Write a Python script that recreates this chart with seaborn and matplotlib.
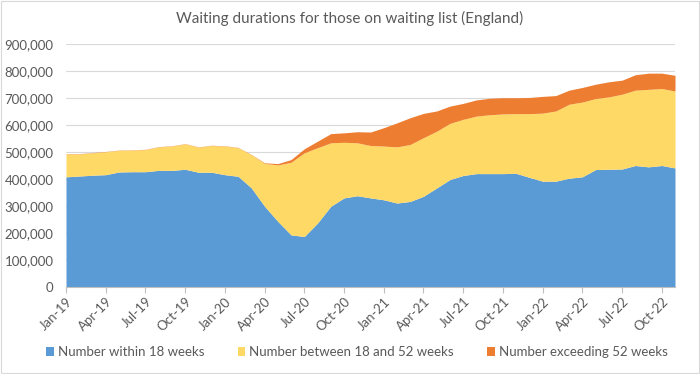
import matplotlib
matplotlib.use("Agg")
import matplotlib.pyplot as plt
import numpy as np
import seaborn as sns
from matplotlib.patches import Rectangle
from matplotlib.ticker import FuncFormatter

# monthly Jan-19 .. Nov-22, thousands
months = ["Jan-19", "Feb-19", "Mar-19", "Apr-19", "May-19", "Jun-19", "Jul-19", "Aug-19",
          "Sep-19", "Oct-19", "Nov-19", "Dec-19", "Jan-20", "Feb-20", "Mar-20", "Apr-20",
          "May-20", "Jun-20", "Jul-20", "Aug-20", "Sep-20", "Oct-20", "Nov-20", "Dec-20",
          "Jan-21", "Feb-21", "Mar-21", "Apr-21", "May-21", "Jun-21", "Jul-21", "Aug-21",
          "Sep-21", "Oct-21", "Nov-21", "Dec-21", "Jan-22", "Feb-22", "Mar-22", "Apr-22",
          "May-22", "Jun-22", "Jul-22", "Aug-22", "Sep-22", "Oct-22", "Nov-22"]

within_18 = [408, 411, 414, 416, 426, 427, 427, 432, 432, 436, 425, 425,
             416, 410, 367, 299, 243, 193, 187, 237, 299, 330, 338, 330,
             323, 311, 317, 336, 367, 398, 413, 420, 420, 420, 421, 406,
             392, 392, 403, 408, 435, 436, 437, 450, 445, 450, 441]

between_18_52 = [85, 82, 83, 85, 80, 80, 82, 87, 90, 94, 93, 99,
                 106, 106, 123, 159, 209, 269, 310, 279, 235, 206, 196, 194,
                 199, 208, 211, 217, 210, 208, 208, 213, 218, 221, 221, 236,
                 252, 260, 274, 277, 263, 268, 277, 279, 287, 285, 285]

over_52 = [1, 1, 1, 1, 1, 1, 1, 1, 1, 1, 1, 1,
           1, 1, 1, 2, 5, 10, 15, 24, 34, 35, 41, 50,
           68, 89, 99, 90, 75, 64, 59, 60, 61, 60, 59, 60,
           62, 57, 52, 54, 53, 56, 52, 57, 60, 57, 58]

series_names = ["Number within 18 weeks", "Number between 18 and 52 weeks",
                "Number exceeding 52 weeks"]
colors = ["#5B9BD5", "#FFD966", "#ED7D31"]
grey = "#595959"

sns.set_style("white")
plt.rcParams["font.family"] = ["Lato", "DejaVu Sans"]

fig = plt.figure(figsize=(7.0, 3.74), dpi=100)
ax = fig.add_axes([66 / 700, 1 - 287 / 374, (675 - 66) / 700, (287 - 44) / 374])

x = np.arange(len(months))
vals = [np.array(v) * 1000 for v in (within_18, between_18_52, over_52)]
ax.stackplot(x, *vals, colors=colors, labels=series_names, linewidth=0)

ax.set_xlim(0, len(months) - 1)
ax.set_ylim(0, 900000)
ax.set_yticks(np.arange(0, 900001, 100000))
ax.yaxis.set_major_formatter(FuncFormatter(lambda v, p: f"{int(v):,}"))
ax.yaxis.grid(True, color="#D9D9D9", linewidth=0.8)
ax.set_axisbelow(True)

ax.set_xticks(x[::3])
ax.set_xticklabels(months[::3], rotation=45, ha="right", rotation_mode="anchor")
ax.tick_params(axis="x", length=4, width=0.8, color="#BFBFBF", labelsize=9.5,
               labelcolor=grey, pad=2, direction="out", bottom=True)
ax.tick_params(axis="y", length=0, labelsize=9.5, labelcolor=grey, pad=9)

sns.despine(ax=ax, left=True, right=True, top=True)
ax.spines["bottom"].set_color("#BFBFBF")
ax.spines["bottom"].set_linewidth(0.8)

fig.text(0.5, 1 - 18 / 374, "Waiting durations for those on waiting list (England)",
         ha="center", va="center", fontsize=11, color=grey)

handles, labels = ax.get_legend_handles_labels()
fig.legend(handles, labels, loc="center", bbox_to_anchor=(357 / 700, 1 - 352 / 374),
           ncol=3, frameon=False, fontsize=9.5, labelcolor=grey,
           handlelength=0.6, handleheight=0.6, handletextpad=0.3, columnspacing=2.5)

fig.patches.append(Rectangle((0.001, 0.002), 0.997, 0.995, transform=fig.transFigure,
                             fill=False, edgecolor="#D9D9D9", linewidth=0.8))

fig.savefig("out.png", dpi=100)
